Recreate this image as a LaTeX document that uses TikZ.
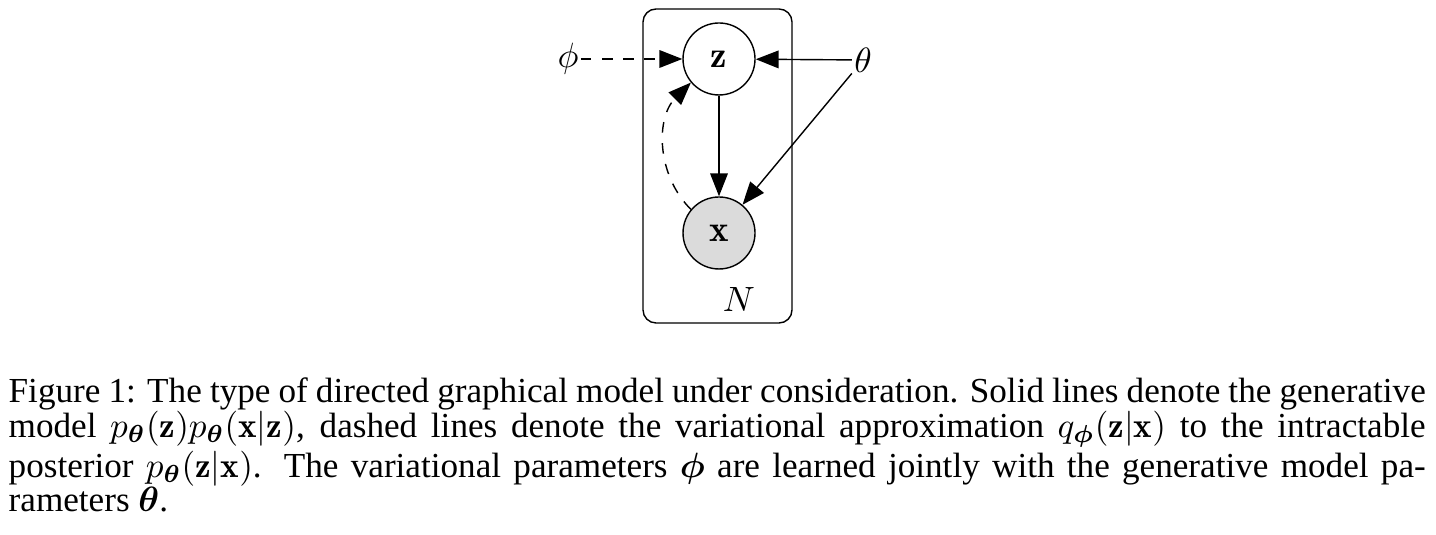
\documentclass[tikz,border=0pt]{standalone}
\usepackage{amsmath,bm}
\usepackage{fontspec}
\newfontfamily\capfont{Liberation Serif}
\usetikzlibrary{arrows.meta}
\tikzset{
  latent/.style={circle,draw,minimum size=0.72cm,inner sep=0pt,font=\fontsize{10.5}{12}\selectfont},
  obs/.style={latent,fill=gray!28},
  param/.style={inner sep=0.5pt,font=\fontsize{10}{12}\selectfont},
  arr/.style={-{Triangle[length=6.5pt,width=5pt]}},
}

\begin{document}
\begin{tikzpicture}
\useasboundingbox (0,0) rectangle (14.36,5.35);
% plate
\draw[rounded corners=0.13cm] (6.43,2.12) rectangle (7.92,5.26);
\node[latent] (z) at (7.19,4.76) {$\mathbf{z}$};
\node[obs] (x) at (7.19,3.02) {$\mathbf{x}$};
\node[param] (phi) at (5.68,4.76) {$\phi$};
\node[param] (theta) at (8.63,4.75) {$\theta$};
\node[param] (plate) at (7.39,2.35) {$N$};
% generative model
\draw[arr] (z) -- (x);
\draw[arr] (theta) -- (z);
\draw[arr] (theta) -- (x);
% variational approximation
\draw[arr,dashed] (phi) -- (z);
\draw[arr,dashed] (x.140) to[bend left=45] (z.220);
% caption
\node[anchor=base west,text width=14.17cm,inner sep=0pt,align=justify,
  font=\capfont\fontsize{10}{9.7}\selectfont] (caption) at (0.08,1.32)
  {\lineskiplimit=-20pt\relax
  Figure 1: The type of directed graphical model under consideration. Solid lines denote the generative\linebreak
  model $p_{\bm\theta}(\mathbf{z})p_{\bm\theta}(\mathbf{x}|\mathbf{z})$, dashed lines denote the variational approximation $q_{\bm\phi}(\mathbf{z}|\mathbf{x})$ to the intractable\linebreak
  posterior $p_{\bm\theta}(\mathbf{z}|\mathbf{x})$. The variational parameters $\bm\phi$ are learned jointly with the generative model pa-\linebreak
  rameters $\bm\theta$.};
\end{tikzpicture}
\end{document}
